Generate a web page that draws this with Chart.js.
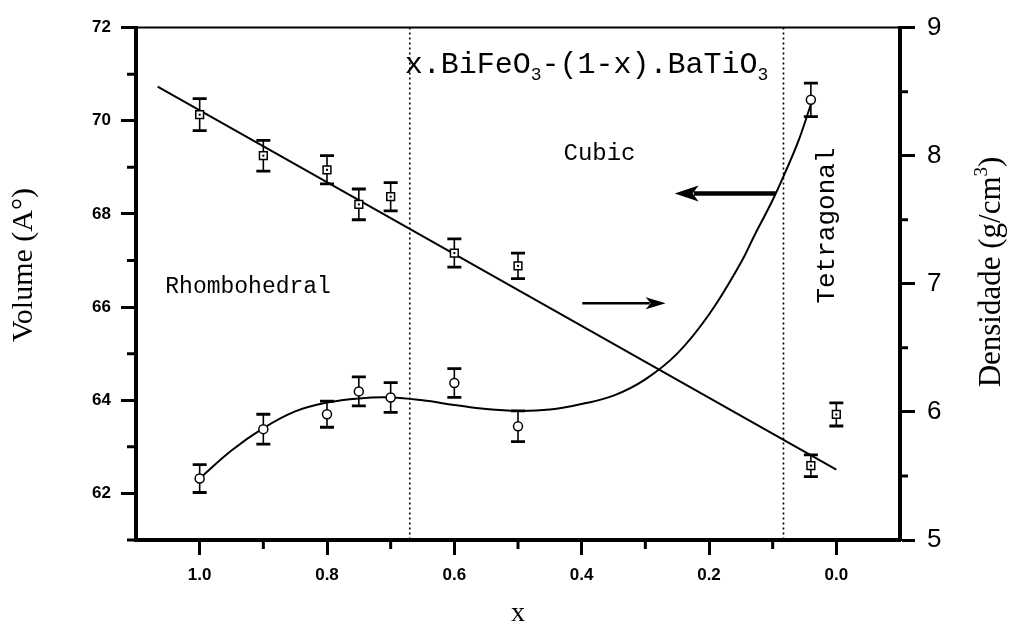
<!DOCTYPE html>
<html>
<head>
<meta charset="utf-8">
<script src="https://cdn.jsdelivr.net/npm/chart.js@4.4.0/dist/chart.umd.min.js"></script>
<style>
  html, body { margin: 0; padding: 0; background: #fff; }
  #wrap { width: 1026px; height: 638px; }
</style>
</head>
<body>
<div id="wrap"><canvas id="chart" width="1026" height="638"></canvas></div>
<script>
// measured points, volume (left axis)
const xVolume = [1.0, 0.9, 0.8, 0.75, 0.7, 0.6, 0.5, 0.04];
const volume = [62.32, 63.38, 63.70, 64.19, 64.06, 64.37, 63.44, 70.45];
const volumeErr = [0.30, 0.32, 0.28, 0.31, 0.32, 0.31, 0.33, 0.36];

// measured points, density (right axis)
const xDensity = [1.0, 0.9, 0.8, 0.75, 0.7, 0.6, 0.5, 0.04, 0.0];
const density = [8.32, 8.00, 7.89, 7.62, 7.68, 7.24, 7.14, 5.58, 5.98];
const densityErr = [0.125, 0.12, 0.11, 0.12, 0.11, 0.11, 0.10, 0.085, 0.09];

// fitted curves
const xVolumeFit = [1.0, 0.95, 0.9, 0.85, 0.8, 0.75, 0.7, 0.65, 0.6, 0.55, 0.5, 0.45, 0.4, 0.35, 0.3, 0.25, 0.2, 0.15, 0.13, 0.1, 0.08, 0.06, 0.04];
const volumeFit = [62.32, 62.92, 63.40, 63.76, 63.95, 64.04, 64.06, 64.00, 63.90, 63.81, 63.77, 63.80, 63.92, 64.10, 64.45, 65.00, 65.84, 66.95, 67.50, 68.30, 68.90, 69.55, 70.35];
const xDensityFit = [1.066, 0.0];
const densityFit = [8.54, 5.55];

// axes
const xTicks = [1.0, 0.8, 0.6, 0.4, 0.2, 0.0];
const xMinor = [0.9, 0.7, 0.5, 0.3, 0.1];
const yTicks = [62, 64, 66, 68, 70, 72];
const yMinor = [61, 63, 65, 67, 69, 71];
const y2Ticks = [5, 6, 7, 8, 9];
const y2Minor = [5.5, 6.5, 7.5, 8.5];
const phaseBounds = [0.67, 0.083];

const pts = (xs, ys) => xs.map((v, i) => ({ x: v, y: ys[i] }));

function errBars(ctx, sx, sy, xs, ys, es) {
    xs.forEach((v, i) => {
        const px = sx.getPixelForValue(v);
        const top = sy.getPixelForValue(ys[i] + es[i]);
        const bot = sy.getPixelForValue(ys[i] - es[i]);
        ctx.lineWidth = 1.6;
        ctx.beginPath();
        ctx.moveTo(px, top); ctx.lineTo(px, bot);
        ctx.stroke();
        ctx.lineWidth = 2.8;
        ctx.beginPath();
        ctx.moveTo(px - 7, top); ctx.lineTo(px + 7, top);
        ctx.moveTo(px - 7, bot); ctx.lineTo(px + 7, bot);
        ctx.stroke();
    });
}

function arrow(ctx, x0, x1, y, w, hl, hw) {
    const dir = Math.sign(x1 - x0);
    ctx.lineWidth = w;
    ctx.beginPath();
    ctx.moveTo(x0, y); ctx.lineTo(x1 - dir * hl * 0.8, y);
    ctx.stroke();
    ctx.beginPath();
    ctx.moveTo(x1, y);
    ctx.lineTo(x1 - dir * hl, y - hw);
    ctx.lineTo(x1 - dir * hl * 0.75, y);
    ctx.lineTo(x1 - dir * hl, y + hw);
    ctx.closePath();
    ctx.fill();
}

// draws pieces [text, font, dy] one after another
function pieces(ctx, parts, x, y) {
    let cx = x;
    parts.forEach(([t, f, dy]) => {
        ctx.font = f;
        ctx.fillText(t, cx, y + dy);
        cx += ctx.measureText(t).width;
    });
}
function piecesWidth(ctx, parts) {
    let w = 0;
    parts.forEach(([t, f]) => { ctx.font = f; w += ctx.measureText(t).width; });
    return w;
}

const decor = {
    id: 'decor',
    beforeDatasetsDraw(chart) {
        const { ctx, chartArea: a, scales: { x, y, y2 } } = chart;
        ctx.save();
        ctx.strokeStyle = '#000';
        ctx.lineWidth = 1.6;
        ctx.setLineDash([2, 3]);
        phaseBounds.forEach(v => {
            const px = x.getPixelForValue(v);
            ctx.beginPath();
            ctx.moveTo(px, a.top); ctx.lineTo(px, a.bottom);
            ctx.stroke();
        });
        ctx.setLineDash([]);
        errBars(ctx, x, y, xVolume, volume, volumeErr);
        errBars(ctx, x, y2, xDensity, density, densityErr);
        ctx.restore();
    },
    afterDatasetsDraw(chart) {
        const { ctx, scales: { x, y2 } } = chart;
        ctx.save();
        ctx.fillStyle = '#000';
        xDensity.forEach((v, i) => {
            ctx.fillRect(x.getPixelForValue(v) - 1, y2.getPixelForValue(density[i]) - 1, 2, 2);
        });
        ctx.restore();
    },
    afterDraw(chart) {
        const { ctx, chartArea: a, scales: { x, y, y2 } } = chart;
        ctx.save();
        ctx.strokeStyle = '#000';
        ctx.fillStyle = '#000';

        // top frame line
        ctx.lineWidth = 2;
        ctx.beginPath();
        ctx.moveTo(a.left, a.top); ctx.lineTo(a.right, a.top);
        ctx.stroke();

        // minor ticks
        ctx.lineWidth = 3;
        ctx.beginPath();
        xMinor.forEach(v => { const p = x.getPixelForValue(v); ctx.moveTo(p, a.bottom); ctx.lineTo(p, a.bottom + 9); });
        yMinor.forEach(v => { const p = y.getPixelForValue(v); ctx.moveTo(a.left, p); ctx.lineTo(a.left - 9, p); });
        y2Minor.forEach(v => { const p = y2.getPixelForValue(v); ctx.moveTo(a.right, p); ctx.lineTo(a.right + 8, p); });
        ctx.stroke();

        // formula title
        const mono = 'Liberation Mono, Courier New, monospace';
        ctx.textBaseline = 'alphabetic';
        ctx.textAlign = 'left';
        pieces(ctx, [
            ['x.BiFeO', '30px ' + mono, 0],
            ['3', '18px ' + mono, 7],
            ['-(1-x).BaTiO', '30px ' + mono, 0],
            ['3', '18px ' + mono, 7]
        ], x.getPixelForValue(0.678), y.getPixelForValue(71.03));

        // phase labels
        ctx.textBaseline = 'middle';
        ctx.font = '24px ' + mono;
        ctx.textAlign = 'center';
        ctx.fillText('Cubic', x.getPixelForValue(0.372), y.getPixelForValue(69.3));
        ctx.textAlign = 'left';
        ctx.font = '23px ' + mono;
        ctx.fillText('Rhombohedral', x.getPixelForValue(1.054), y.getPixelForValue(66.44));
        ctx.save();
        ctx.translate(x.getPixelForValue(0.014), y.getPixelForValue(67.75));
        ctx.rotate(-Math.PI / 2);
        ctx.textAlign = 'center';
        ctx.font = '26px ' + mono;
        ctx.fillText('Tetragonal', 0, 0);
        ctx.restore();

        // arrows pointing to each curve's axis
        arrow(ctx, x.getPixelForValue(0.095), x.getPixelForValue(0.254), y.getPixelForValue(68.44), 4.5, 24, 8);
        arrow(ctx, x.getPixelForValue(0.399), x.getPixelForValue(0.268), y.getPixelForValue(66.08), 2.5, 20, 6);

        // axis titles
        const serif = 'Liberation Serif, Times New Roman, serif';
        ctx.textBaseline = 'middle';
        ctx.save();
        ctx.translate(24, 265);
        ctx.rotate(-Math.PI / 2);
        ctx.textAlign = 'center';
        ctx.font = '30px ' + serif;
        ctx.fillText('Volume (A°)', 0, 0);
        ctx.restore();

        const dens = [
            ['Densidade (g/cm', '31px ' + serif, 0],
            ['3', '19px ' + serif, -10],
            [')', '31px ' + serif, 0]
        ];
        ctx.save();
        ctx.translate(992, 272);
        ctx.rotate(-Math.PI / 2);
        ctx.textAlign = 'left';
        pieces(ctx, dens, -piecesWidth(ctx, dens) / 2, 0);
        ctx.restore();

        ctx.textAlign = 'center';
        ctx.font = '28px ' + serif;
        ctx.fillText('x', (a.left + a.right) / 2, 614);
        ctx.restore();
    }
};

const axisGrid = { drawOnChartArea: false, drawTicks: true, tickLength: 15, tickWidth: 3, tickColor: '#000' };
const axisBorder = { display: true, width: 4, color: '#000' };
const sans = 'Liberation Sans, Arial, sans-serif';

new Chart(document.getElementById('chart'), {
    type: 'scatter',
    data: {
        datasets: [
            {
                label: 'Volume',
                data: pts(xVolume, volume),
                yAxisID: 'y',
                pointStyle: 'circle',
                pointRadius: 4.5,
                pointBorderWidth: 1.5,
                pointBorderColor: '#000',
                pointBackgroundColor: '#fff'
            },
            {
                label: 'Densidade',
                data: pts(xDensity, density),
                yAxisID: 'y2',
                pointStyle: 'rect',
                pointRadius: 5.5,
                pointBorderWidth: 1.5,
                pointBorderColor: '#000',
                pointBackgroundColor: '#fff'
            },
            {
                label: 'Volume fit',
                data: pts(xVolumeFit, volumeFit),
                yAxisID: 'y',
                showLine: true,
                pointRadius: 0,
                borderColor: '#000',
                borderWidth: 2,
                tension: 0.4
            },
            {
                label: 'Densidade fit',
                data: pts(xDensityFit, densityFit),
                yAxisID: 'y2',
                showLine: true,
                pointRadius: 0,
                borderColor: '#000',
                borderWidth: 2
            }
        ]
    },
    options: {
        responsive: false,
        animation: false,
        layout: { padding: { top: 27 } },
        plugins: {
            legend: { display: false },
            tooltip: { enabled: false }
        },
        scales: {
            x: {
                type: 'linear',
                min: -0.1,
                max: 1.1,
                reverse: true,
                afterBuildTicks: s => { s.ticks = xTicks.map(v => ({ value: v })); },
                afterFit: s => { s.height = 98; },
                grid: axisGrid,
                border: axisBorder,
                ticks: {
                    color: '#000',
                    font: { family: sans, size: 17, weight: 'bold' },
                    padding: 10,
                    maxRotation: 0,
                    autoSkip: false,
                    callback: v => Number(v).toFixed(1)
                }
            },
            y: {
                position: 'left',
                min: 61,
                max: 72,
                afterBuildTicks: s => { s.ticks = yTicks.map(v => ({ value: v })); },
                afterFit: s => { s.width = 136; },
                grid: axisGrid,
                border: axisBorder,
                ticks: {
                    color: '#000',
                    font: { family: sans, size: 17, weight: 'bold' },
                    padding: 10,
                    autoSkip: false
                }
            },
            y2: {
                position: 'right',
                min: 5,
                max: 9,
                afterBuildTicks: s => { s.ticks = y2Ticks.map(v => ({ value: v })); },
                afterFit: s => { s.width = 126; },
                grid: axisGrid,
                border: axisBorder,
                ticks: {
                    color: '#000',
                    font: { family: sans, size: 26 },
                    padding: 12,
                    autoSkip: false
                }
            }
        }
    },
    plugins: [decor]
});
</script>
</body>
</html>
